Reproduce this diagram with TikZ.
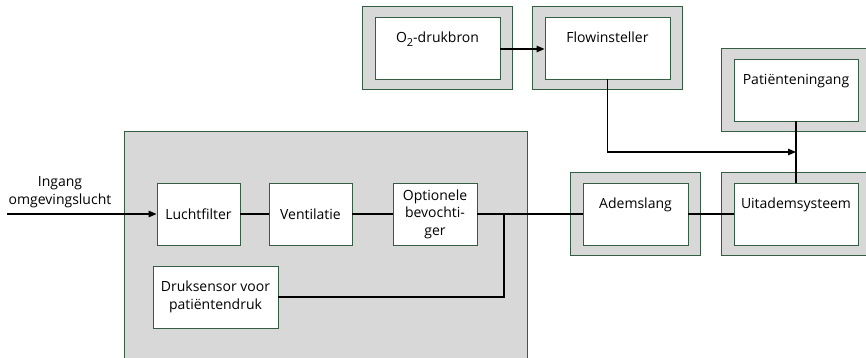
\documentclass[tikz,border=0pt]{standalone}
\usepackage{fontspec}
\setmainfont{Open Sans}
\usetikzlibrary{arrows.meta,backgrounds}
\definecolor{shellfill}{RGB}{216,216,216}
\definecolor{edgegreen}{RGB}{52,94,66}
\begin{document}
\begin{tikzpicture}[x=1pt,y=-1pt,
  every node/.style={font=\fontsize{14}{17.5}\selectfont},
  box/.style={draw=edgegreen,line width=0.9pt,fill=white,minimum height=62pt,inner sep=1pt,align=center},
  upbox/.style={box,text height=10.5pt,text depth=21pt},
  shell/.style={draw=edgegreen,line width=0.9pt,fill=shellfill},
  conn/.style={line width=1.2pt,black},
  arr/.style={conn,-{Triangle[length=8pt,width=6.5pt]}}]
\useasboundingbox (0,0) rectangle (866,358);
\clip (0,0) rectangle (866,358);

% inner nodes
\node[box,minimum width=83pt] (lf) at (198.5,214) {Luchtfilter};
\node[box,minimum width=83pt] (ve) at (310.5,214) {Ventilatie};
\node[box,minimum width=84pt] (ob) at (435,214) {Optionele\\bevochti-\\ger};
\node[box,minimum width=125pt] (ds) at (215.5,297) {Druksensor voor\\patiëntendruk};
\node[upbox,minimum width=125pt] (o2) at (437.5,48) {O\raisebox{-3.5pt}{\fontsize{11}{11}\selectfont 2}-drukbron};
\node[upbox,minimum width=125pt] (fl) at (607.5,48) {Flowinsteller};
\node[upbox,minimum width=124pt] (pi) at (796,90) {Patiënteningang};
\node[upbox,minimum width=124pt] (ui) at (796,214) {Uitademsysteem};
\node[upbox,minimum width=105pt] (ad) at (635.5,214) {Ademslang};
\node[align=center,inner sep=0pt] (inlbl) at (60,192) {Ingang\\omgevingslucht};

% frames
\begin{scope}[on background layer]
  \draw[shell] (124,131) rectangle (527,364);
  \foreach \n in {o2,fl,pi,ui,ad}
    \draw[shell] ([shift={(-12,-10)}]\n.north west) rectangle ([shift={(12,10)}]\n.south east);
\end{scope}

% connectors
\coordinate (in) at (7,214);
\coordinate (br) at (504,214);
\coordinate (j) at (796,152);
\draw[arr] (in) -- (lf.west);
\draw[conn] (lf) -- (ve);
\draw[conn] (ve) -- (ob);
\draw[conn] (ob.east) -- (ad.west);
\draw[conn] (br) |- (ds.east);
\draw[conn] (ad) -- (ui);
\draw[arr] (o2.east |- 0,49) -- (fl.west |- 0,49);
\draw[arr] (fl.south) |- (j);
\draw[conn] (pi.south) -- (ui.north);
\end{tikzpicture}
\end{document}
